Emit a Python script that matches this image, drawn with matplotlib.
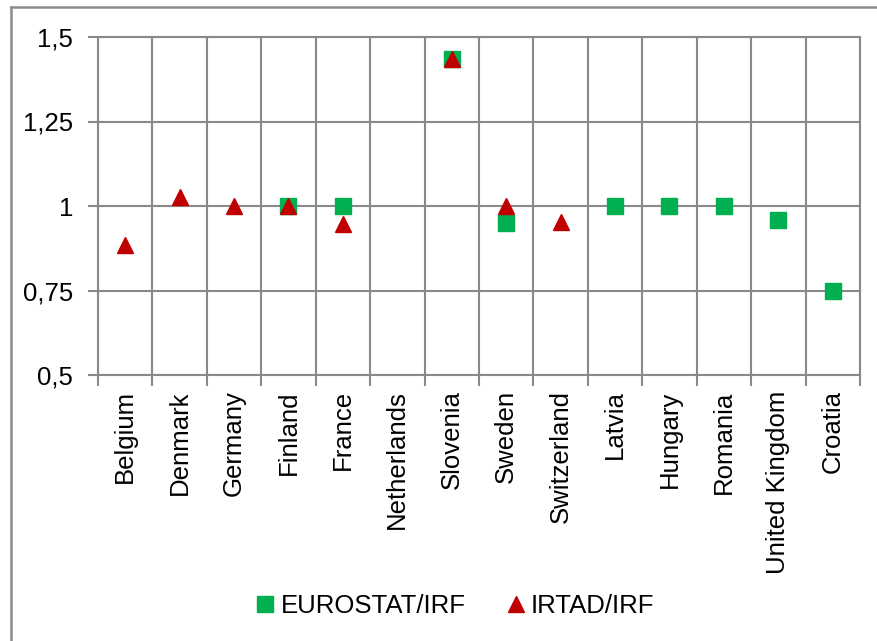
import matplotlib
matplotlib.use("Agg")
import matplotlib.pyplot as plt
import numpy as np
from matplotlib.lines import Line2D

plt.rcParams['font.family'] = ['Liberation Sans', 'DejaVu Sans']

countries = ["Belgium", "Denmark", "Germany", "Finland", "France", "Netherlands",
             "Slovenia", "Sweden", "Switzerland", "Latvia", "Hungary", "Romania",
             "United Kingdom", "Croatia"]
eurostat_irf = [np.nan, np.nan, np.nan, 1.0, 1.0, np.nan, 1.435, 0.95, np.nan,
                1.0, 1.0, 1.0, 0.958, 0.75]
irtad_irf = [0.885, 1.028, 1.0, 1.0, 0.948, np.nan, 1.435, 1.0, 0.954,
             np.nan, np.nan, np.nan, np.nan, np.nan]
yticks = [0.5, 0.75, 1.0, 1.25, 1.5]
ytick_labels = ["0,5", "0,75", "1", "1,25", "1,5"]

W, H = 878, 641
fig = plt.figure(figsize=(W / 100, H / 100), dpi=100)
ax = fig.add_axes([98 / W, 1 - 375 / H, (860 - 98) / W, (375 - 37) / H])

grid_c = "#898989"
x = np.arange(len(countries))
ax.set_xlim(-0.5, len(countries) - 0.5)
ax.set_ylim(0.5, 1.5)

ax.set_yticks(yticks)
ax.set_yticklabels(ytick_labels, fontsize=18.5)
ax.yaxis.grid(True, color=grid_c, linewidth=1.5)
ax.set_xticks(np.arange(len(countries) + 1) - 0.5)
ax.set_xticklabels([])
ax.xaxis.grid(True, color=grid_c, linewidth=1.5)
ax.set_xticks(x, minor=True)
ax.set_xticklabels(countries, minor=True, rotation=90, fontsize=18.5,
                   va="top", ha="center")
ax.tick_params(axis="x", which="minor", length=0, pad=11)
ax.tick_params(axis="x", which="major", length=8, width=1.5, color=grid_c, direction="out")
ax.tick_params(axis="y", length=7, width=1.5, color=grid_c, direction="out", pad=11)
ax.set_axisbelow(True)
for s in ax.spines.values():
    s.set_color(grid_c)
    s.set_linewidth(1.5)

ax.plot(x, eurostat_irf, linestyle="none", marker="s", markersize=11,
        color="#00B050", label="EUROSTAT/IRF", zorder=3)
ax.plot(x, irtad_irf, linestyle="none", marker="^", markersize=11,
        color="#C00000", label="IRTAD/IRF", zorder=4)

fig.legend(loc="center", bbox_to_anchor=(456 / W, 1 - 606 / H), ncol=2,
           frameon=False, fontsize=18.5, handlelength=0.6, handletextpad=0.3,
           columnspacing=1.65, markerscale=1.0)

# figure frame
fig.add_artist(Line2D([11 / W, 1.0], [1 - 7 / H, 1 - 7 / H], color="#8c8c8c",
                      linewidth=1.8, transform=fig.transFigure))
fig.add_artist(Line2D([11 / W, 11 / W], [0, 1 - 7 / H], color="#8c8c8c",
                      linewidth=1.8, transform=fig.transFigure))

fig.savefig("out.png", dpi=100)
